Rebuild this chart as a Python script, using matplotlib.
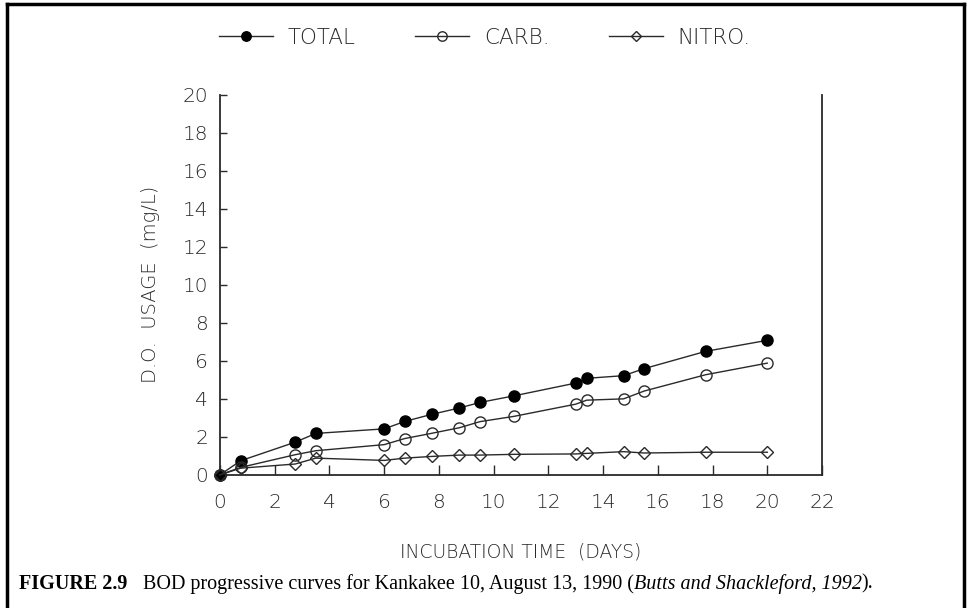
import matplotlib.pyplot as plt
from matplotlib.lines import Line2D
from matplotlib.offsetbox import TextArea, HPacker, AnchoredOffsetbox

# BOD progressive curves, Kankakee 10 (August 13, 1990)
days = [0, 0.75, 2.75, 3.5, 6, 6.75, 7.75, 8.75, 9.5, 10.75, 13, 13.4, 14.75, 15.5, 17.75, 20]
total = [0, 0.74, 1.72, 2.18, 2.42, 2.81, 3.19, 3.52, 3.81, 4.16, 4.83, 5.08, 5.22, 5.59, 6.50, 7.08]
carb = [0, 0.39, 1.06, 1.27, 1.59, 1.91, 2.19, 2.48, 2.80, 3.08, 3.72, 3.93, 4.00, 4.41, 5.27, 5.88]
nitro = [0, 0.35, 0.57, 0.88, 0.76, 0.88, 0.97, 1.04, 1.04, 1.08, 1.10, 1.13, 1.22, 1.15, 1.19, 1.19]

x_ticks = list(range(0, 23, 2))
y_ticks = list(range(0, 21, 2))

sans = 'DejaVu Sans'
ink = '#2a2a2a'

fig = plt.figure(figsize=(9.7, 6.08), dpi=100)
ax = fig.add_axes([0.2268, 0.219, 0.6206, 0.625])

ax.plot(days, total, '-o', color=ink, lw=1.0, ms=8, mfc='black', mec='black',
        label='TOTAL', clip_on=False, zorder=3)
ax.plot(days, carb, '-o', color=ink, lw=1.0, ms=8, mfc='none', mec=ink, mew=1.0,
        label='CARB.', clip_on=False, zorder=3)
ax.plot(days, nitro, '-D', color=ink, lw=1.0, ms=6.5, mfc='none', mec=ink, mew=1.0,
        label='NITRO.', clip_on=False, zorder=3)

ax.set_xlim(0, 22)
ax.set_ylim(0, 20)
ax.set_xticks(x_ticks)
ax.set_yticks(y_ticks)
ax.spines['top'].set_visible(False)
for s in ['left', 'bottom', 'right']:
    ax.spines[s].set_linewidth(1.3)
    ax.spines[s].set_color(ink)
ax.tick_params(axis='x', direction='in', length=7, width=1.0, pad=13, colors=ink,
               labelsize=14.5)
ax.tick_params(axis='y', direction='in', length=5, width=1.0, pad=8.5, colors=ink,
               labelsize=14.5)
for lab in ax.get_xticklabels() + ax.get_yticklabels():
    lab.set_family(sans)
    lab.set_fontweight('light')

ax.set_xlabel('INCUBATION TIME  (DAYS)', family=sans, fontsize=13.5, weight='light',
              color=ink, labelpad=22)
ax.set_ylabel('D.O.  USAGE  (mg/L)', family=sans, fontsize=14, weight='light',
              color=ink, labelpad=16)

leg = ax.legend(loc='center', bbox_to_anchor=(0.5, 0.9375), bbox_transform=fig.transFigure,
                ncol=3, frameon=False, handlelength=2.5, columnspacing=2.75,
                handletextpad=0.7, markerscale=0.85,
                prop={'family': sans, 'size': 15.5, 'weight': 'light'})
for t in leg.get_texts():
    t.set_color(ink)

# caption with mixed bold / regular / italic pieces
serif = 'Liberation Serif'
cap_size = 14.5
parts = [
    TextArea('FIGURE 2.9', textprops=dict(family=serif, weight='bold', size=cap_size)),
    TextArea('   BOD progressive curves for Kankakee 10, August 13, 1990 (',
             textprops=dict(family=serif, size=cap_size)),
    TextArea('Butts and Shackleford, 1992', textprops=dict(family=serif, style='italic', size=cap_size)),
    TextArea(').', textprops=dict(family=serif, size=cap_size)),
]
caption = HPacker(children=parts, align='baseline', pad=0, sep=0)
box = AnchoredOffsetbox(loc='center left', child=caption, pad=0, frameon=False,
                        bbox_to_anchor=(0.02, 0.04), bbox_transform=fig.transFigure,
                        borderpad=0)
fig.add_artist(box)

# frame round the figure (bottom edge falls outside the image)
for xs, ys in [([0.0072, 0.0072], [-0.1, 0.9934]), ([0.0072, 0.9938], [0.9934, 0.9934]),
               ([0.9938, 0.9938], [0.9934, -0.1])]:
    fig.add_artist(Line2D(xs, ys, transform=fig.transFigure, color='black', lw=2.5))

fig.savefig('out.png', dpi=100)
